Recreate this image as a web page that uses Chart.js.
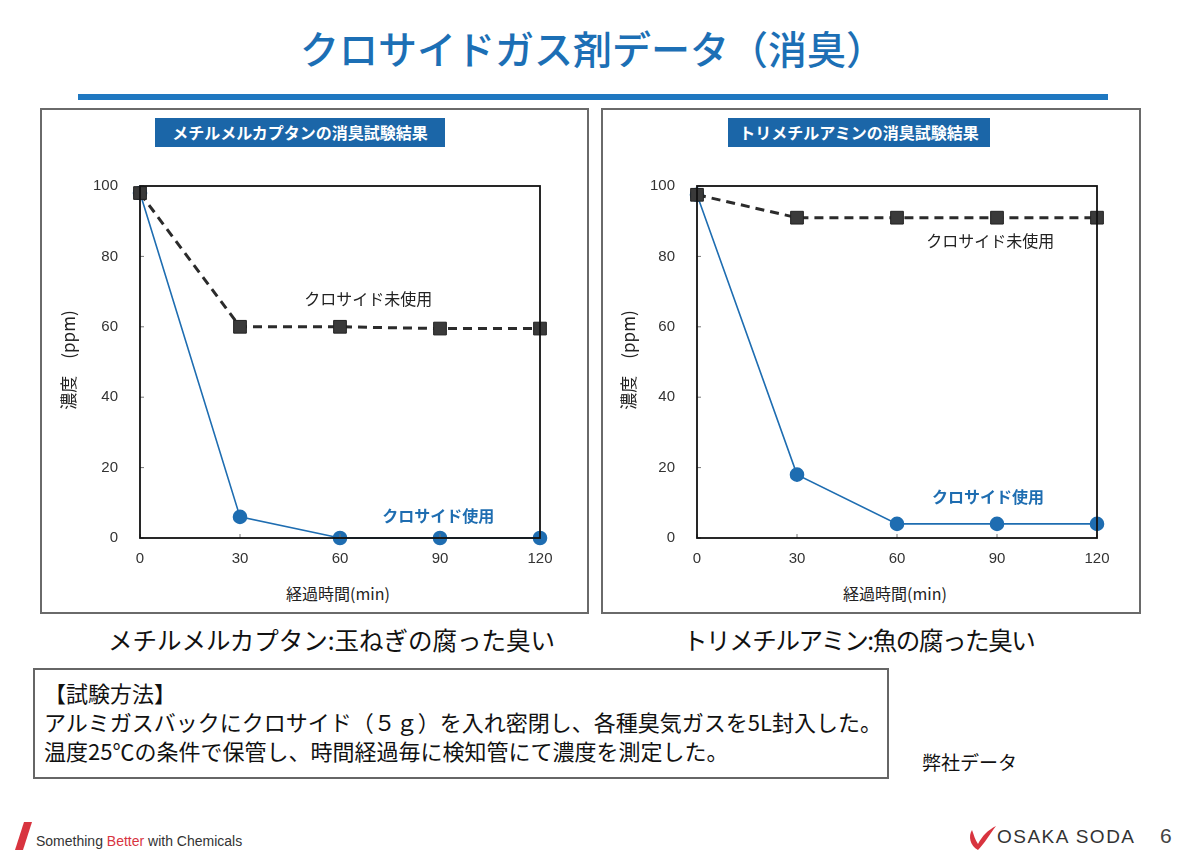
<!DOCTYPE html>
<html lang="ja">
<head>
<meta charset="utf-8">
<title>クロサイドガス剤データ（消臭）</title>
<script src="https://cdn.jsdelivr.net/npm/chart.js@4.4.1/dist/chart.umd.min.js"></script>
<style>
	html, body { margin: 0; padding: 0; background: #fff; }
	body { width: 1200px; height: 854px; position: relative; overflow: hidden; font-family: "Noto Sans CJK JP", "Noto Sans", sans-serif; color: #222; }
	.abs { position: absolute; }
	#title { left: 0; width: 1185px; top: 19px; text-align: center; font-size: 39px; font-weight: 500; color: #1c6fb5; }
	#rule { left: 78px; top: 94px; width: 1030px; height: 6px; background: #1f78c1; }
	.panel { top: 108px; height: 506px; border: 2px solid #6a6a6a; box-sizing: border-box; }
	.label { top: 118px; height: 29px; line-height: 29px; background: #1b66a8; color: #fff; font-size: 16px; font-weight: 700; text-align: center; }
	.chartbox { top: 155px; width: 520px; height: 415px; }
	.xtitle { top: 581px; width: 240px; text-align: center; font-size: 16px; color: #222; }
	.ytitle { top: 348px; width: 124px; height: 24px; line-height: 24px; text-align: center; font-size: 17px; color: #222; transform: rotate(-90deg); }
	.caption { top: 622px; font-size: 24.5px; color: #111; white-space: nowrap; }
	#method { left: 33px; top: 668px; width: 856px; height: 111px; border: 2px solid #666; box-sizing: border-box; }
	.mline { left: 44px; font-size: 22px; color: #111; white-space: nowrap; }
	#footer-text { left: 36px; top: 833px; font-family: "Liberation Sans Narrow", "Liberation Sans", sans-serif; font-size: 14px; color: #333; }
	#footer-text b { color: #d8343f; font-weight: 400; }
	#soda { left: 997px; top: 826px; font-family: "Liberation Sans", sans-serif; font-size: 19px; color: #333; letter-spacing: 1.5px; }
	#page { left: 1160px; top: 824px; font-family: "Liberation Sans", sans-serif; font-size: 21px; color: #444; }
</style>
</head>
<body>
<div id="title" class="abs">クロサイドガス剤データ（消臭）</div>
<div id="rule" class="abs"></div>

<div class="abs panel" style="left:40px; width:549px;"></div>
<div class="abs panel" style="left:601px; width:540px;"></div>

<div class="abs label" style="left:155px; width:290px;">メチルメルカプタンの消臭試験結果</div>
<div class="abs label" style="left:728px; width:262px;">トリメチルアミンの消臭試験結果</div>

<div class="abs chartbox" style="left:45px;"><canvas id="chartL"></canvas></div>
<div class="abs chartbox" style="left:602px;"><canvas id="chartR"></canvas></div>

<div class="abs xtitle" style="left:218px;">経過時間(min)</div>
<div class="abs xtitle" style="left:775px;">経過時間(min)</div>
<div class="abs ytitle" style="left:6px;">濃度　(ppm)</div>
<div class="abs ytitle" style="left:566px;">濃度　(ppm)</div>

<div class="abs caption" style="left:108px;">メチルメルカプタン:玉ねぎの腐った臭い</div>
<div class="abs caption" style="left:683px; letter-spacing:-1.4px;">トリメチルアミン:魚の腐った臭い</div>

<div id="method" class="abs"></div>
<div class="abs mline" style="top:676px;">【試験方法】</div>
<div class="abs mline" style="top:705px;">アルミガスバックにクロサイド（５ｇ）を入れ密閉し、各種臭気ガスを5L封入した。</div>
<div class="abs mline" style="top:734px;">温度25℃の条件で保管し、時間経過毎に検知管にて濃度を測定した。</div>
<div class="abs" style="left:922px; top:748px; font-size:19px; color:#111;">弊社データ</div>

<svg class="abs" style="left:14px; top:820px;" width="20" height="32"><polygon points="10,2 18,2 9,30 1,30" fill="#d8343f"/></svg>
<div id="footer-text" class="abs">Something <b>Better</b> with Chemicals</div>
<svg class="abs" style="left:966px; top:822px;" width="32" height="32"><path d="M6,8 C2,14 4,24 12,28 C18,22 24,12 30,4 C22,8 16,14 12,22 C9,18 8,13 6,8 Z" fill="#d8343f"/></svg>
<div id="soda" class="abs">OSAKA SODA</div>
<div id="page" class="abs">6</div>

<script>
// 経過時間(min)
var TIME_MIN = [0, 30, 60, 90, 120];

// メチルメルカプタン
var MM_UNUSED = [98, 60, 60, 59.5, 59.5];
var MM_USED   = [98, 6, 0, 0, 0];

// トリメチルアミン
var TMA_UNUSED = [97.5, 91, 91, 91, 91];
var TMA_USED   = [97.5, 18, 4, 4, 4];

var X_TICKS = [0, 30, 60, 90, 120];
var Y_TICKS = [0, 20, 40, 60, 80, 100];

var LABEL_UNUSED = "クロサイド未使用";
var LABEL_USED = "クロサイド使用";

var COLOR_BLUE = "#1e6db1";
var COLOR_DARK = "#2b2b2b";

function toPoints(ys) {
	var pts = [];
	for(var i = 0; i < TIME_MIN.length; i++) {
		pts.push({ x: TIME_MIN[i], y: ys[i] });
	}
	return pts;
}

// frame, inward ticks and series labels
var framePlugin = {
	id: "frame",
	afterDraw: function(chart, args, opts) {
		var ctx = chart.ctx;
		var a = chart.chartArea;
		var xs = chart.scales.x;
		var ys = chart.scales.y;

		ctx.save();
		ctx.strokeStyle = "#777";
		ctx.lineWidth = 1;
		X_TICKS.forEach(function(v) {
			var px = xs.getPixelForValue(v);
			ctx.beginPath(); ctx.moveTo(px, a.bottom); ctx.lineTo(px, a.bottom - 4); ctx.stroke();
		});
		Y_TICKS.forEach(function(v) {
			var py = ys.getPixelForValue(v);
			ctx.beginPath(); ctx.moveTo(a.left, py); ctx.lineTo(a.left + 4, py); ctx.stroke();
		});

		ctx.strokeStyle = "#111";
		ctx.lineWidth = 1.8;
		ctx.strokeRect(a.left, a.top, a.right - a.left, a.bottom - a.top);

		ctx.textAlign = "center";
		ctx.textBaseline = "middle";
		opts.labels.forEach(function(l) {
			ctx.font = (l.bold ? "700 " : "400 ") + "16px 'Noto Sans CJK JP'";
			ctx.fillStyle = l.color;
			ctx.fillText(l.text, xs.getPixelForValue(l.x), ys.getPixelForValue(l.y));
		});
		ctx.restore();
	}
};

function makeChart(id, unused, used, labels) {
	return new Chart(document.getElementById(id).getContext("2d"), {
		type: "line",
		data: {
			datasets: [
				{
					label: LABEL_UNUSED,
					data: toPoints(unused),
					borderColor: COLOR_DARK,
					borderWidth: 3,
					borderDash: [9, 6],
					pointStyle: "rect",
					pointRadius: 9,
					pointBackgroundColor: "#3a3a3a",
					pointBorderColor: "#222",
					pointBorderWidth: 1,
					tension: 0,
					clip: false
				},
				{
					label: LABEL_USED,
					data: toPoints(used),
					borderColor: COLOR_BLUE,
					borderWidth: 1.6,
					pointStyle: "circle",
					pointRadius: 6.5,
					pointBackgroundColor: COLOR_BLUE,
					pointBorderColor: COLOR_BLUE,
					tension: 0,
					clip: false
				}
			]
		},
		options: {
			responsive: true,
			maintainAspectRatio: false,
			animation: false,
			events: [],
			layout: { autoPadding: false, padding: { top: 0, right: 25, left: 0, bottom: 0 } },
			plugins: {
				legend: { display: false },
				tooltip: { enabled: false },
				frame: { labels: labels }
			},
			scales: {
				x: {
					type: "linear",
					min: 0,
					max: 120,
					afterBuildTicks: function(s) { s.ticks = X_TICKS.map(function(v) { return { value: v }; }); },
					afterFit: function(s) { s.height = 32; },
					grid: { display: false, drawTicks: false },
					border: { display: false },
					ticks: { padding: 12, color: "#333", font: { family: "Liberation Sans", size: 15 } }
				},
				y: {
					type: "linear",
					min: 0,
					max: 100,
					afterBuildTicks: function(s) { s.ticks = Y_TICKS.map(function(v) { return { value: v }; }); },
					afterFit: function(s) { s.width = 95; },
					grid: { display: false, drawTicks: false },
					border: { display: false },
					ticks: { padding: 22, color: "#333", font: { family: "Liberation Sans", size: 15 } }
				}
			}
		},
		plugins: [framePlugin]
	});
}

makeChart("chartL", MM_UNUSED, MM_USED, [
	{ text: LABEL_UNUSED, x: 68.5, y: 68, color: "#222", bold: false },
	{ text: LABEL_USED, x: 89.5, y: 6.2, color: COLOR_BLUE, bold: true }
]);

makeChart("chartR", TMA_UNUSED, TMA_USED, [
	{ text: LABEL_UNUSED, x: 88, y: 84.4, color: "#222", bold: false },
	{ text: LABEL_USED, x: 87.3, y: 11.6, color: COLOR_BLUE, bold: true }
]);
</script>
</body>
</html>
